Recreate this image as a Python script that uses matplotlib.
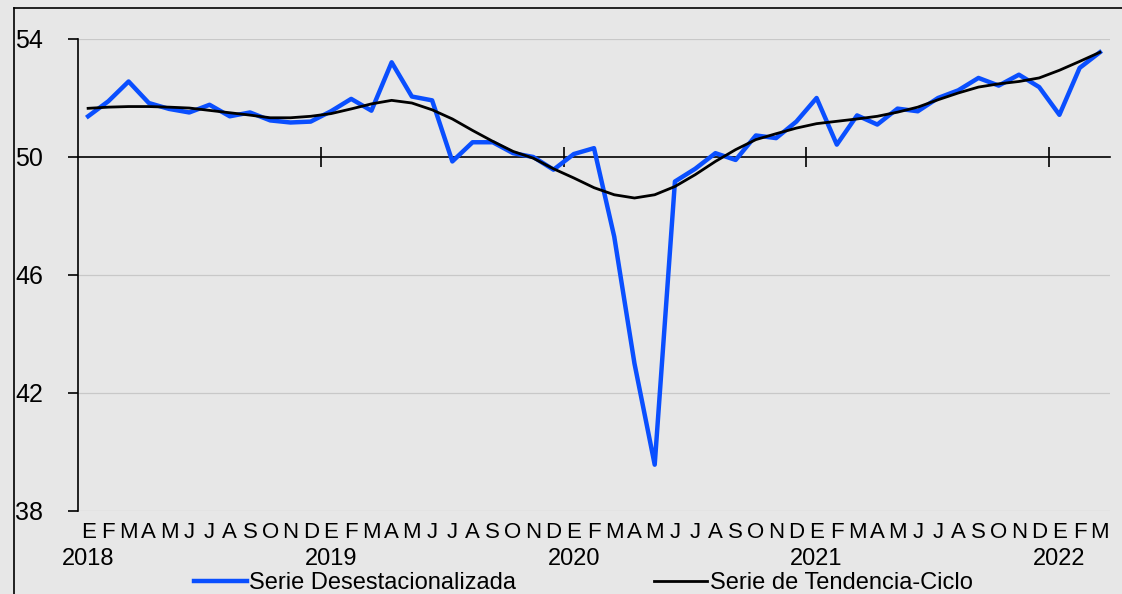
import matplotlib.pyplot as plt
from matplotlib.lines import Line2D
from matplotlib import font_manager
import numpy as np

plt.rcParams['font.family'] = ['Liberation Sans', 'DejaVu Sans']

# months Jan 2018 .. Mar 2022
month_letters = ['E', 'F', 'M', 'A', 'M', 'J', 'J', 'A', 'S', 'O', 'N', 'D']
years = ['2018', '2019', '2020', '2021', '2022']
n_months = 51

desest = [51.38, 51.89, 52.56, 51.83, 51.63, 51.51, 51.77, 51.38, 51.51, 51.24, 51.17, 51.20,
          51.55, 51.97, 51.57, 53.21, 52.05, 51.92, 49.85, 50.50, 50.50, 50.13, 50.00, 49.57,
          50.10, 50.30, 47.30, 43.00, 39.57, 49.17, 49.60, 50.13, 49.90, 50.73, 50.64, 51.20,
          52.00, 50.42, 51.41, 51.10, 51.64, 51.55, 52.00, 52.26, 52.68, 52.42, 52.79, 52.37,
          51.43, 53.02, 53.55]

tendencia = [51.65, 51.69, 51.71, 51.71, 51.69, 51.66, 51.58, 51.50, 51.42, 51.33, 51.33, 51.38,
             51.47, 51.63, 51.80, 51.92, 51.83, 51.60, 51.29, 50.90, 50.53, 50.19, 49.96, 49.60,
             49.29, 48.96, 48.72, 48.61, 48.72, 49.00, 49.40, 49.85, 50.25, 50.59, 50.79, 50.98,
             51.13, 51.21, 51.29, 51.38, 51.52, 51.69, 51.94, 52.17, 52.37, 52.48, 52.56, 52.68,
             52.94, 53.24, 53.55]

# month letters look condensed in the original
names = {f.name for f in font_manager.fontManager.ttflist}
month_font = 'Liberation Sans Narrow' if 'Liberation Sans Narrow' in names else 'Liberation Sans'
month_size = 18 if month_font == 'Liberation Sans Narrow' else 16

bg = '#e7e7e7'
fig = plt.figure(figsize=(11.22, 5.94), dpi=100, facecolor=bg)
ax = fig.add_axes([78/1122, 1 - 511/594, (1110-78)/1122, (511-39)/594])
ax.set_facecolor(bg)

x = np.arange(n_months) + 0.5
ax.plot(x, desest, color='#0a4fff', lw=3.2, label='Serie Desestacionalizada', zorder=3)
ax.plot(x, tendencia, color='black', lw=2.0, label='Serie de Tendencia-Ciclo', zorder=4)

ax.set_xlim(0, n_months)
ax.set_ylim(38, 54)
ax.set_yticks([38, 42, 46, 50, 54])
ax.tick_params(axis='y', labelsize=18, direction='out', length=7, width=1.2, pad=18)
for yv in [38, 42, 46, 54]:
    ax.axhline(yv, color='#c8c8c8', lw=0.9, zorder=1)

for s in ['top', 'right']:
    ax.spines[s].set_visible(False)
ax.spines['left'].set_linewidth(1.2)
ax.spines['bottom'].set_position(('data', 50))
ax.spines['bottom'].set_linewidth(1.2)

# year boundary ticks on the 50 line
ax.set_xticks([12, 24, 36, 48])
ax.set_xticklabels([])
ax.tick_params(axis='x', direction='inout', length=14, width=1.2)

# month and year labels below the plot
trans = ax.get_xaxis_transform()
for i in range(n_months):
    ax.text(i + 0.5, -0.046, month_letters[i % 12], transform=trans, ha='center', va='center',
            fontsize=month_size, family=[month_font, 'Liberation Sans'], clip_on=False)
for k, yr in enumerate(years):
    ax.text(12 * k + 0.5, -0.101, yr, transform=trans, ha='center', va='center',
            fontsize=17, clip_on=False)

# outer chart frame (top and left)
fig.add_artist(Line2D([14/1122, 1], [1 - 8/594, 1 - 8/594], color='black', lw=1.2))
fig.add_artist(Line2D([14/1122, 14/1122], [0, 1 - 8/594], color='black', lw=1.2))

fig.legend(loc='center', bbox_to_anchor=(583/1122, 1 - 583/594), ncol=2, frameon=False,
           fontsize=17, handlelength=2.25, handletextpad=0.1, columnspacing=5.85,
           borderpad=0, borderaxespad=0)

fig.savefig('out.png', dpi=100, facecolor=bg)
